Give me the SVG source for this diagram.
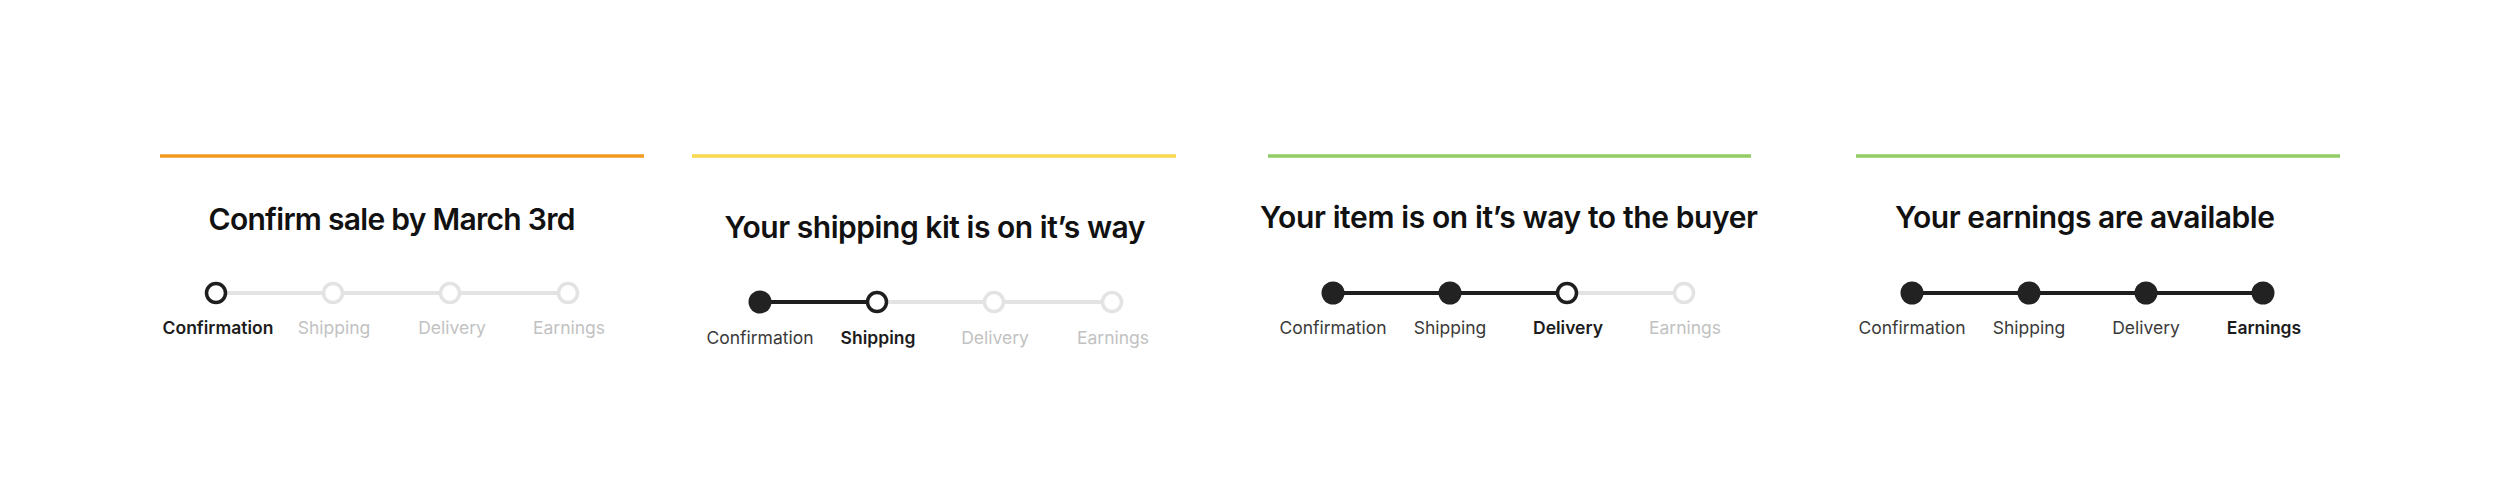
<svg xmlns="http://www.w3.org/2000/svg" width="2500" height="498" viewBox="0 0 2500 498">
<style>
.bar{stroke-width:3.5;fill:none}
.title{font-family:Inter,"Liberation Sans",sans-serif;font-size:30px;font-weight:600;fill:#111;text-anchor:middle}
.lbl{font-family:Inter,"Liberation Sans",sans-serif;font-size:17.5px;text-anchor:middle}
.todo{fill:#c2c2c2}
.done{fill:#3a3a3a}
.cur{fill:#1c1c1c;font-weight:600}
.tk{stroke:#e3e3e3;stroke-width:4}
.tkd{stroke:#1e1e1e;stroke-width:4}
.cg{fill:#fff;stroke:#e3e3e3;stroke-width:3.5}
.cc{fill:#fff;stroke:#1e1e1e;stroke-width:3.5}
.cd{fill:#222}
</style>
<rect width="2500" height="498" fill="#fff"/>
<g id="connectors">
<line class="tk" x1="216" y1="293" x2="568" y2="293"/>
<line class="tk" x1="877" y1="302" x2="1112" y2="302"/>
<line class="tkd" x1="760" y1="302" x2="877" y2="302"/>
<line class="tk" x1="1567" y1="293" x2="1684" y2="293"/>
<line class="tkd" x1="1333" y1="293" x2="1567" y2="293"/>
<line class="tkd" x1="1912" y1="293" x2="2263" y2="293"/>
</g>
<g id="panel1">
<line class="bar" stroke="#f29a20" x1="160" y1="156" x2="644" y2="156"/>
<text class="title" x="392" y="230" textLength="367">Confirm sale by March 3rd</text>
<g id="p1-confirmation"><circle class="cc" cx="216" cy="293" r="9.5"/><text class="lbl cur" x="218" y="334">Confirmation</text></g>
<g id="p1-shipping"><circle class="cg" cx="333" cy="293" r="9.5"/><text class="lbl todo" x="334" y="334">Shipping</text></g>
<g id="p1-delivery"><circle class="cg" cx="450" cy="293" r="9.5"/><text class="lbl todo" x="452" y="334">Delivery</text></g>
<g id="p1-earnings"><circle class="cg" cx="568" cy="293" r="9.5"/><text class="lbl todo" x="569" y="334">Earnings</text></g>
</g>
<g id="panel2">
<line class="bar" stroke="#f8d84e" x1="692" y1="156" x2="1176" y2="156"/>
<text class="title" x="935" y="238" textLength="421">Your shipping kit is on it’s way</text>
<g id="p2-confirmation"><circle class="cd" cx="760" cy="302" r="11.5"/><text class="lbl done" x="760" y="344">Confirmation</text></g>
<g id="p2-shipping"><circle class="cc" cx="877" cy="302" r="9.5"/><text class="lbl cur" x="878" y="344">Shipping</text></g>
<g id="p2-delivery"><circle class="cg" cx="994" cy="302" r="9.5"/><text class="lbl todo" x="995" y="344">Delivery</text></g>
<g id="p2-earnings"><circle class="cg" cx="1112" cy="302" r="9.5"/><text class="lbl todo" x="1113" y="344">Earnings</text></g>
</g>
<g id="panel3">
<line class="bar" stroke="#92cc64" x1="1268" y1="156" x2="1751" y2="156"/>
<text class="title" x="1509" y="228" textLength="498">Your item is on it’s way to the buyer</text>
<g id="p3-confirmation"><circle class="cd" cx="1333" cy="293" r="11.5"/><text class="lbl done" x="1333" y="334">Confirmation</text></g>
<g id="p3-shipping"><circle class="cd" cx="1450" cy="293" r="11.5"/><text class="lbl done" x="1450" y="334">Shipping</text></g>
<g id="p3-delivery"><circle class="cc" cx="1567" cy="293" r="9.5"/><text class="lbl cur" x="1568" y="334">Delivery</text></g>
<g id="p3-earnings"><circle class="cg" cx="1684" cy="293" r="9.5"/><text class="lbl todo" x="1685" y="334">Earnings</text></g>
</g>
<g id="panel4">
<line class="bar" stroke="#92cc64" x1="1856" y1="156" x2="2340" y2="156"/>
<text class="title" x="2085" y="228" textLength="380">Your earnings are available</text>
<g id="p4-confirmation"><circle class="cd" cx="1912" cy="293" r="11.5"/><text class="lbl done" x="1912" y="334">Confirmation</text></g>
<g id="p4-shipping"><circle class="cd" cx="2029" cy="293" r="11.5"/><text class="lbl done" x="2029" y="334">Shipping</text></g>
<g id="p4-delivery"><circle class="cd" cx="2146" cy="293" r="11.5"/><text class="lbl done" x="2146" y="334">Delivery</text></g>
<g id="p4-earnings"><circle class="cd" cx="2263" cy="293" r="11.5"/><text class="lbl cur" x="2264" y="334">Earnings</text></g>
</g>
</svg>
